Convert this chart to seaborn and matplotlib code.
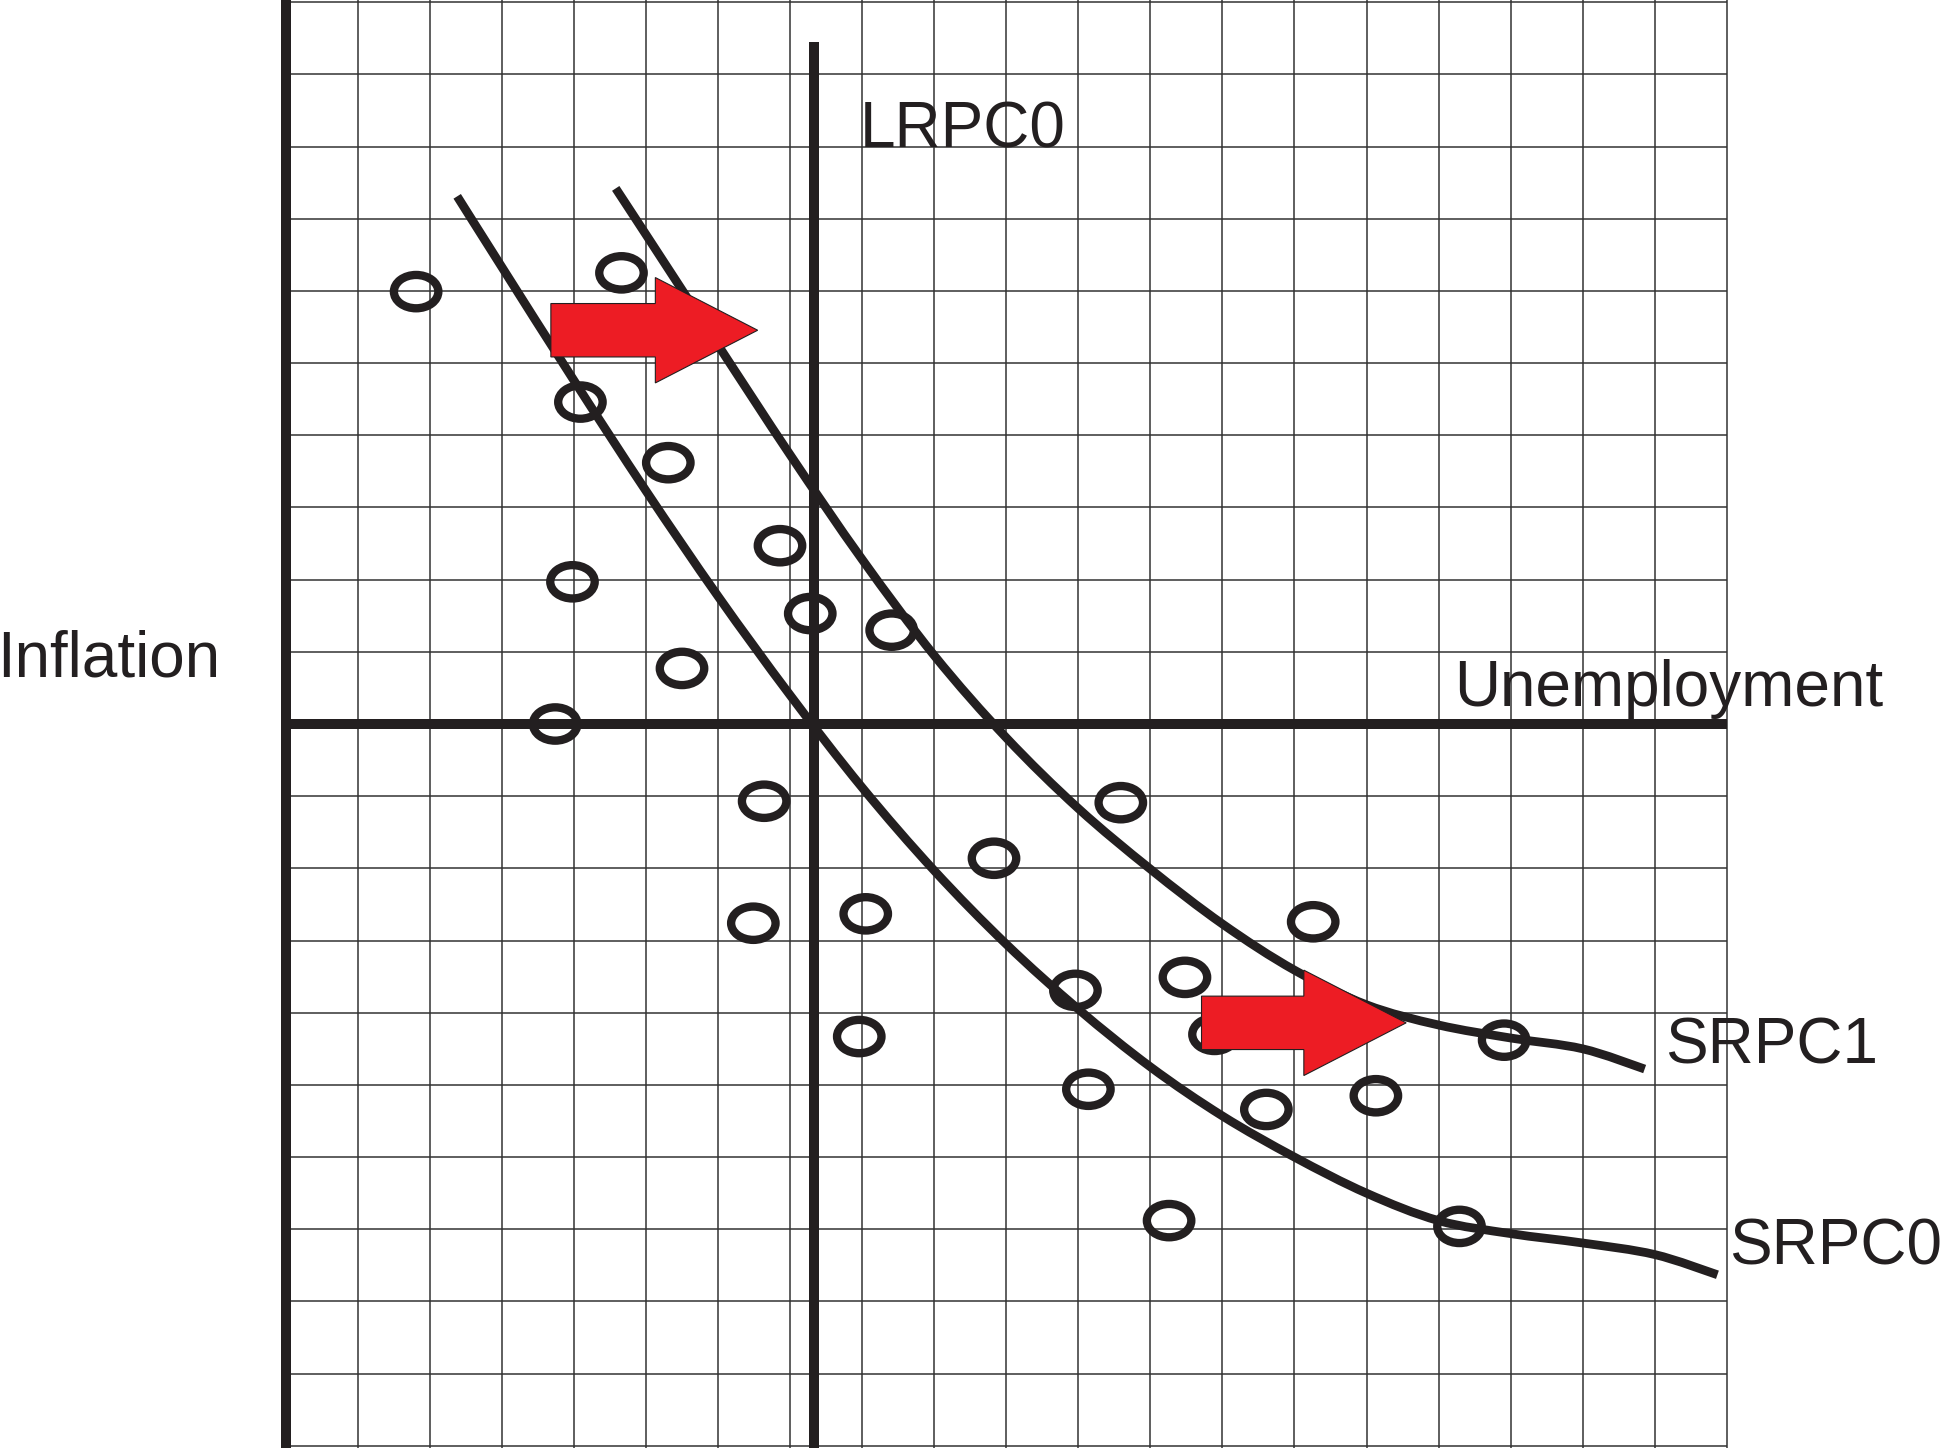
import numpy as np
import matplotlib
matplotlib.use('Agg')
import matplotlib.pyplot as plt
from matplotlib.path import Path
from matplotlib.transforms import Affine2D
from matplotlib.patches import FancyArrow, PathPatch
import seaborn as sns

# grid units: x from the left axis (0..20), y from the horizontal axis (-10..10)
circle_x = [1.81, 4.66, 4.09, 5.31, 6.86, 3.98, 7.28, 8.41, 5.50, 3.74, 6.64, 11.59, 9.83,
            6.49, 8.05, 14.26, 12.48, 10.96, 12.89, 16.91, 7.96, 11.14, 13.61, 15.13, 12.26, 16.29]
circle_y = [5.99, 6.25, 4.46, 3.62, 2.47, 1.97, 1.53, 1.30, 0.77, 0.00, -1.07, -1.09, -1.86,
            -2.76, -2.63, -2.74, -3.51, -3.69, -4.30, -4.38, -4.33, -5.06, -5.34, -5.15, -6.88, -6.96]

srpc0_x = [2.38, 3, 4, 5, 6, 7, 8, 9, 10, 11, 12, 13, 14, 15, 16, 17, 18, 19, 19.87]
srpc0_y = [7.31, 6.33, 4.76, 3.23, 1.77, 0.40, -0.88, -2.03, -3.05, -3.95, -4.75, -5.43,
           -6.00, -6.50, -6.88, -7.06, -7.19, -7.35, -7.63]

srpc1_x = [4.58, 5, 6, 7, 8, 9, 10, 11, 12, 13, 14, 15, 16, 17, 18, 18.86]
srpc1_y = [7.42, 6.78, 5.25, 3.73, 2.28, 0.95, -0.19, -1.17, -2.01, -2.77, -3.41, -3.89,
           -4.17, -4.35, -4.50, -4.78]

lrpc_x = 7.33
lrpc_top = 9.45

# shift arrows: tail x, centre y, length
arrow_x = [3.68, 12.71]
arrow_y = [5.455, -4.14]
arrow_len = [2.87, 2.84]

labels = ['Inflation', 'Unemployment', 'LRPC0', 'SRPC1', 'SRPC0']
label_x = [-4.0, 16.21, 7.97, 19.14, 20.03]
label_y = [0.66, 0.25, 7.98, -4.71, -7.49]

ink = '#231f20'
red = '#ed1c24'


def smooth_path(xs, ys):
    # cubic bezier segments through the read points (Catmull-Rom tangents)
    p = np.column_stack([xs, ys]).astype(float)
    ext = np.vstack([p[0], p, p[-1]])
    verts = [p[0]]
    codes = [Path.MOVETO]
    for i in range(len(p) - 1):
        p0, p1, p2, p3 = ext[i], ext[i + 1], ext[i + 2], ext[i + 3]
        verts += [p1 + (p2 - p0) / 6, p2 - (p3 - p1) / 6, p2]
        codes += [Path.CURVE4] * 3
    return Path(verts, codes)


sns.set_style('white')
plt.rcParams['font.family'] = ['Liberation Sans', 'DejaVu Sans']

fig = plt.figure(figsize=(19.48, 14.48), dpi=100)
ax = fig.add_axes([278.5 / 1948, 0.0, (1734.0 - 278.5) / 1948, 1.0])
ax.set_xlim(-0.1, 20.1)
ax.set_ylim(-10.03, 10.03)
ax.set_xticks([])
ax.set_yticks([])
for s in ax.spines.values():
    s.set_visible(False)

# background grid
ax.hlines(range(-10, 11), 0, 20, color='#333333', linewidth=1.1, zorder=1)
ax.vlines(range(0, 21), -10.03, 10.03, color='#333333', linewidth=1.1, zorder=1)

# axes and long-run curve
ax.vlines(0, -10.03, 10.03, color=ink, linewidth=7.2, zorder=3, clip_on=False)
ax.hlines(0, 0, 20, color=ink, linewidth=7.2, zorder=3)
ax.vlines(lrpc_x, -10.03, lrpc_top, color=ink, linewidth=7.2, zorder=3, clip_on=False)

# short-run curves
for xs, ys in [(srpc0_x, srpc0_y), (srpc1_x, srpc1_y)]:
    ax.add_patch(PathPatch(smooth_path(xs, ys), fill=False, edgecolor=ink,
                           linewidth=6.3, capstyle='butt', zorder=4))

# data points as open ellipses
ellipse = Path.unit_circle().transformed(Affine2D().scale(1.0, 0.75))
sns.scatterplot(x=circle_x, y=circle_y, marker=ellipse, s=1024, ax=ax, zorder=4)
pts = ax.collections[-1]
pts.set_facecolor('none')
pts.set_edgecolor(ink)
pts.set_linewidth(6.0)

# red shift arrows
for x, y, L in zip(arrow_x, arrow_y, arrow_len):
    ax.add_patch(FancyArrow(x, y, L, 0, width=0.74, head_width=1.46, head_length=1.42,
                            length_includes_head=True, facecolor=red, edgecolor=ink,
                            linewidth=0.8, zorder=6))

for t, x, y in zip(labels, label_x, label_y):
    ax.text(x, y, t, fontsize=46, color=ink, ha='left', va='baseline', clip_on=False)

fig.savefig('out.png', dpi=100)
